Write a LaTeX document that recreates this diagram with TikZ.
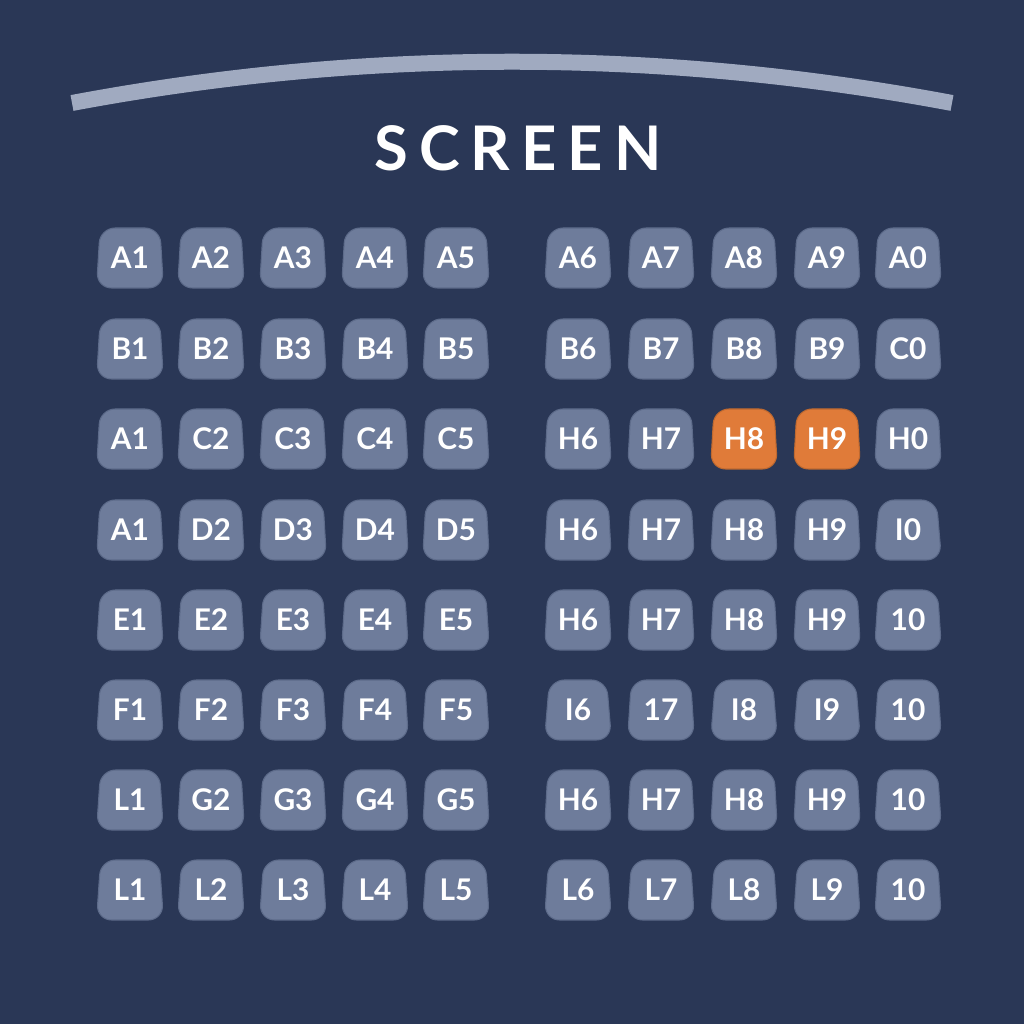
\documentclass[tikz,border=0pt]{standalone}
\usepackage{fontspec}
\setmainfont{Lato}
\usetikzlibrary{shapes.geometric,positioning}
\definecolor{HallNavy}{RGB}{42,55,86}
\definecolor{SeatGray}{RGB}{110,124,155}
\definecolor{SeatPick}{RGB}{224,123,57}
\definecolor{ScreenGray}{RGB}{160,170,192}
\tikzset{
    seat/.style={trapezium, trapezium left angle=84, trapezium right angle=84, trapezium stretches=true,
        fill=SeatGray, draw=SeatGray!75!HallNavy, line width=0.6pt, rounded corners=0.3cm,
        minimum width=1.34cm, minimum height=1.2cm, inner sep=0pt, text=white,
        font=\fontsize{17}{17}\selectfont\bfseries},
    picked/.style={seat, fill=SeatPick, draw=SeatPick!85!black},
    screenarc/.style={draw=ScreenGray, line width=0.32cm},
}
\begin{document}
\begin{tikzpicture}[x=0.02cm, y=0.02cm]
\fill[HallNavy] (0,0) rectangle (1024,1024);
\useasboundingbox (0,0) rectangle (1024,1024);

% screen
\coordinate (scrL) at (72,921);
\coordinate (scrR) at (952,921);
\draw[screenarc] (scrL) .. controls (365,976) and (659,976) .. (scrR);
\node[text=white, font=\fontsize{35}{35}\selectfont\bfseries\addfontfeature{LetterSpace=18}] (screen) at (518,876) {SCREEN};

% seats, row by row
\foreach \r/\cy/\labels in {
    1/258/{A1,A2,A3,A4,A5,A6,A7,A8,A9,A0},
    2/349/{B1,B2,B3,B4,B5,B6,B7,B8,B9,C0},
    3/439/{A1,C2,C3,C4,C5,H6,H7,H8,H9,H0},
    4/530/{A1,D2,D3,D4,D5,H6,H7,H8,H9,I0},
    5/620/{E1,E2,E3,E4,E5,H6,H7,H8,H9,10},
    6/710/{F1,F2,F3,F4,F5,I6,17,I8,I9,10},
    7/800/{L1,G2,G3,G4,G5,H6,H7,H8,H9,10},
    8/890/{L1,L2,L3,L4,L5,L6,L7,L8,L9,10}}{
  \foreach \lab [count=\c] in \labels {
    \pgfmathsetmacro\cx{{130,211,293,375,456,578,661,744,827,908}[\c-1]}
    \pgfmathtruncatemacro\hot{and(\r==3, and(\c>7, \c<10))}
    \ifnum\hot=1
      \node[picked] (seat-\r-\c) at (\cx,1024-\cy) {\lab};
    \else
      \node[seat] (seat-\r-\c) at (\cx,1024-\cy) {\lab};
    \fi
  }
}
\end{tikzpicture}
\end{document}
